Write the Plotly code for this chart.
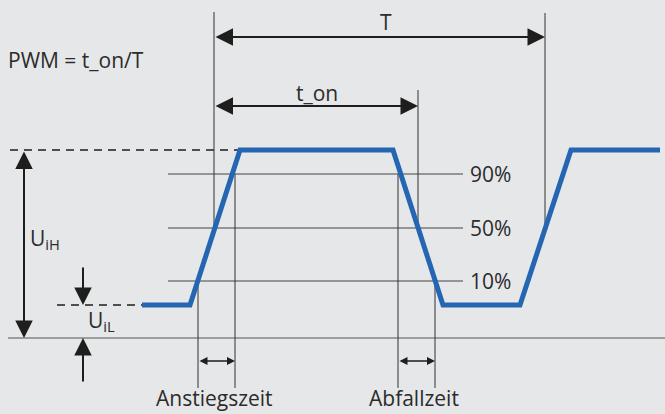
import plotly.graph_objects as go

# ---- data (diagram coordinates: x = time axis, y = screen-like level axis) ----
wave_x = [142, 190, 240, 393, 443, 520, 571, 660]
wave_y = [305, 305, 150, 150, 305, 305, 150, 150]

level_high = 150
level_low = 305
level_zero = 338
level_pct = [174, 228, 281]
level_pct_labels = ["90%", "50%", "10%"]

# vertical marker lines: (x, y_top, y_bottom)
vlines = [
    (214, 12, 228),
    (545, 13, 228),
    (418, 90, 228),
    (198, 281, 388),
    (235, 174, 388),
    (398, 174, 388),
    (435, 281, 388),
]

BG = "#e6e7e9"
BLUE = "#2466b2"
INK = "#2b2b2b"
FONT = "Open Sans"

fig = go.Figure()

# baseline (0 V)
fig.add_trace(go.Scatter(x=[8, 665], y=[level_zero, level_zero], mode="lines",
                         line=dict(color="#555", width=1.2), hoverinfo="skip"))
# percentage lines
for yv in level_pct:
    fig.add_trace(go.Scatter(x=[168, 463], y=[yv, yv], mode="lines",
                             line=dict(color="#444", width=1.2), hoverinfo="skip"))
# dashed reference lines
fig.add_trace(go.Scatter(x=[10, 240], y=[level_high, level_high], mode="lines",
                         line=dict(color="#1e1e1e", width=1.3, dash="8px,6px"), hoverinfo="skip"))
fig.add_trace(go.Scatter(x=[57, 142], y=[level_low, level_low], mode="lines",
                         line=dict(color="#1e1e1e", width=1.3, dash="8px,6px"), hoverinfo="skip"))
# vertical markers
for xv, y0, y1 in vlines:
    fig.add_trace(go.Scatter(x=[xv, xv], y=[y0, y1], mode="lines",
                             line=dict(color="#333", width=1), hoverinfo="skip"))
# waveform
fig.add_trace(go.Scatter(x=wave_x, y=wave_y, mode="lines",
                         line=dict(color=BLUE, width=5), hoverinfo="skip"))

ann = []
def arrow(x0, y0, x1, y1, both=True, size=1.75, width=2.0):
    ann.append(dict(x=x1, y=y1, ax=x0, ay=y0, xref="x", yref="y", axref="x", ayref="y",
                    showarrow=True, arrowhead=2, startarrowhead=2, arrowsize=size,
                    startarrowsize=size, arrowwidth=width, arrowcolor="#1e1e1e",
                    arrowside="end+start" if both else "end", standoff=0, startstandoff=0,
                    text=""))

arrow(214, 37, 545, 37)
arrow(214, 106, 418, 106)
arrow(24, 150, 24, 338)
arrow(83, 266, 83, 305, both=False)
arrow(83, 383, 83, 338, both=False)
arrow(198, 361, 235, 361, size=1.0, width=1.6)
arrow(398, 361, 435, 361, size=1.0, width=1.6)

def label(x, y, txt, anchor="left", size=21, yanchor="middle"):
    ann.append(dict(x=x, y=y, xref="x", yref="y", text=txt, showarrow=False,
                    xanchor=anchor, yanchor=yanchor, font=dict(family=FONT, size=size, color=INK)))

label(6, 60, "PWM = t_on/T")
label(386, 22, "T", anchor="center")
label(317, 93, "t_on", anchor="center")
for yv, t in zip(level_pct, level_pct_labels):
    label(468, yv, t)
label(28, 239, "U<sub>iH</sub>")
label(86, 321, "U<sub>iL</sub>")
label(214, 414, "Anstiegszeit", anchor="center", yanchor="bottom")
label(414, 414, "Abfallzeit", anchor="center", yanchor="bottom")

fig.update_layout(
    width=665, height=414, margin=dict(l=0, r=0, t=0, b=0),
    paper_bgcolor=BG, plot_bgcolor=BG, showlegend=False, annotations=ann,
    xaxis=dict(range=[0, 665], visible=False, fixedrange=True),
    yaxis=dict(range=[414, 0], visible=False, fixedrange=True),
)
fig.write_html("out.html", config={"displayModeBar": False},
               post_script="document.body.style.margin='0';document.body.style.overflow='hidden';")
